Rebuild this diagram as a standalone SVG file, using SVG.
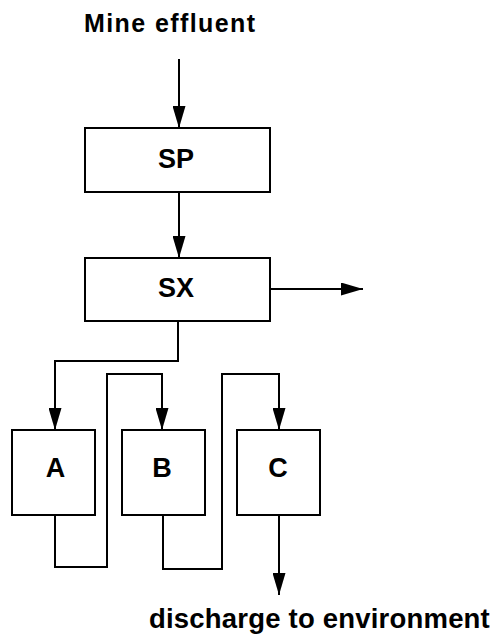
<svg xmlns="http://www.w3.org/2000/svg" width="492" height="635" viewBox="0 0 492 635">
<defs>
<marker id="ah" viewBox="0 0 22 13" refX="22" refY="6.5" markerWidth="22" markerHeight="13" markerUnits="userSpaceOnUse" orient="auto">
<path d="M0,0 L22,6.5 L0,13 Z" fill="#000"/>
</marker>
</defs>
<style>
.box{fill:#fff;stroke:#000;stroke-width:2}
.lbl{font-family:"Liberation Sans",Arial,sans-serif;font-weight:bold;fill:#000}
.c{fill:none;stroke:#000;stroke-width:2}
</style>
<rect width="492" height="635" fill="#fff"/>
<text class="lbl" x="84" y="32" font-size="25" letter-spacing="1.4">Mine effluent</text>
<g id="connectors">
<path class="c" d="M179,59 V128" marker-end="url(#ah)"/>
<path class="c" d="M179,192 V258" marker-end="url(#ah)"/>
<path class="c" d="M270,289 H363" marker-end="url(#ah)"/>
<path class="c" d="M178,321 V361 H55 V430" marker-end="url(#ah)"/>
<path class="c" d="M55,515 V567 H107 V374 H162 V430" marker-end="url(#ah)"/>
<path class="c" d="M163,515 V569 H222 V374 H279 V430" marker-end="url(#ah)"/>
<path class="c" d="M279,515 V595" marker-end="url(#ah)"/>
</g>
<g id="SP"><rect class="box" x="85" y="128" width="185" height="64"/><text class="lbl" x="176" y="168" font-size="27" text-anchor="middle">SP</text></g>
<g id="SX"><rect class="box" x="85" y="258" width="185" height="63"/><text class="lbl" x="176" y="297" font-size="27" text-anchor="middle">SX</text></g>
<g id="A"><rect class="box" x="12" y="430" width="83" height="85"/><text class="lbl" x="55.5" y="477" font-size="27" text-anchor="middle">A</text></g>
<g id="B"><rect class="box" x="122" y="430" width="83" height="85"/><text class="lbl" x="162" y="477" font-size="27" text-anchor="middle">B</text></g>
<g id="C"><rect class="box" x="237" y="430" width="83" height="85"/><text class="lbl" x="278" y="477" font-size="27" text-anchor="middle">C</text></g>
<text class="lbl" x="149" y="628" font-size="27.5" letter-spacing="0.2">discharge to environment</text>
</svg>
